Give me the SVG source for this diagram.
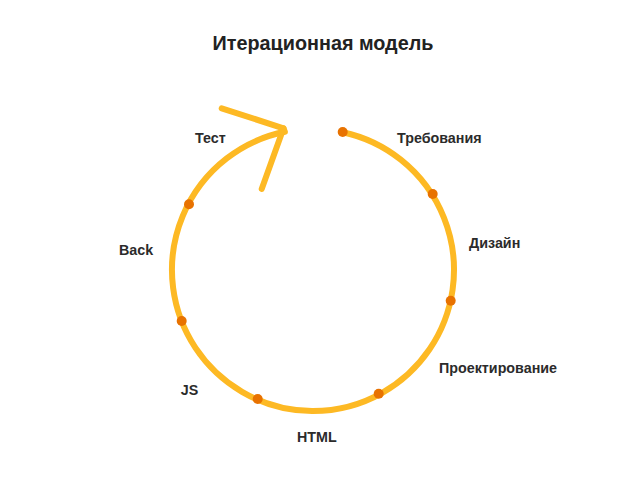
<svg xmlns="http://www.w3.org/2000/svg" width="640" height="500" viewBox="0 0 640 500">
<style>
.lbl{font-family:"Liberation Sans",Arial,sans-serif;font-weight:bold;font-size:14.3px;fill:#2b2b2b}
.title{font-family:"Liberation Sans",Arial,sans-serif;font-weight:bold;font-size:19.8px;fill:#222}
.ring{fill:none;stroke:#FDB924;stroke-width:6;stroke-linecap:round;stroke-linejoin:round}
.dot{fill:#E87200}
</style>
<rect width="640" height="500" fill="#fff"/>
<text class="title" x="323" y="49.5" text-anchor="middle">Итерационная модель</text>
<g id="connectors">
<path class="ring" d="M342.95 132.2 A141 141 0 1 1 284.9 131.8 L283.5 128.3"/>
<polyline class="ring" points="221.7,108.3 283.5,128.3 261.7,189"/>
</g>
<g id="node-trebovaniya"><circle class="dot" cx="342.7" cy="132" r="5"/><text class="lbl" x="397" y="142.7">Требования</text></g>
<g id="node-dizain"><circle class="dot" cx="432.7" cy="194" r="5"/><text class="lbl" x="469" y="248.3">Дизайн</text></g>
<g id="node-proektirovanie"><circle class="dot" cx="450.7" cy="300.7" r="5"/><text class="lbl" x="439" y="372.7">Проектирование</text></g>
<g id="node-html"><circle class="dot" cx="378.7" cy="393.7" r="5"/><text class="lbl" x="297" y="441.7">HTML</text></g>
<g id="node-js"><circle class="dot" cx="257.7" cy="399" r="5"/><text class="lbl" x="180.7" y="394.7">JS</text></g>
<g id="node-back"><circle class="dot" cx="181.7" cy="321" r="5"/><text class="lbl" x="119" y="255">Back</text></g>
<g id="node-test"><circle class="dot" cx="189" cy="204.3" r="5"/><text class="lbl" x="195" y="143">Тест</text></g>
</svg>
